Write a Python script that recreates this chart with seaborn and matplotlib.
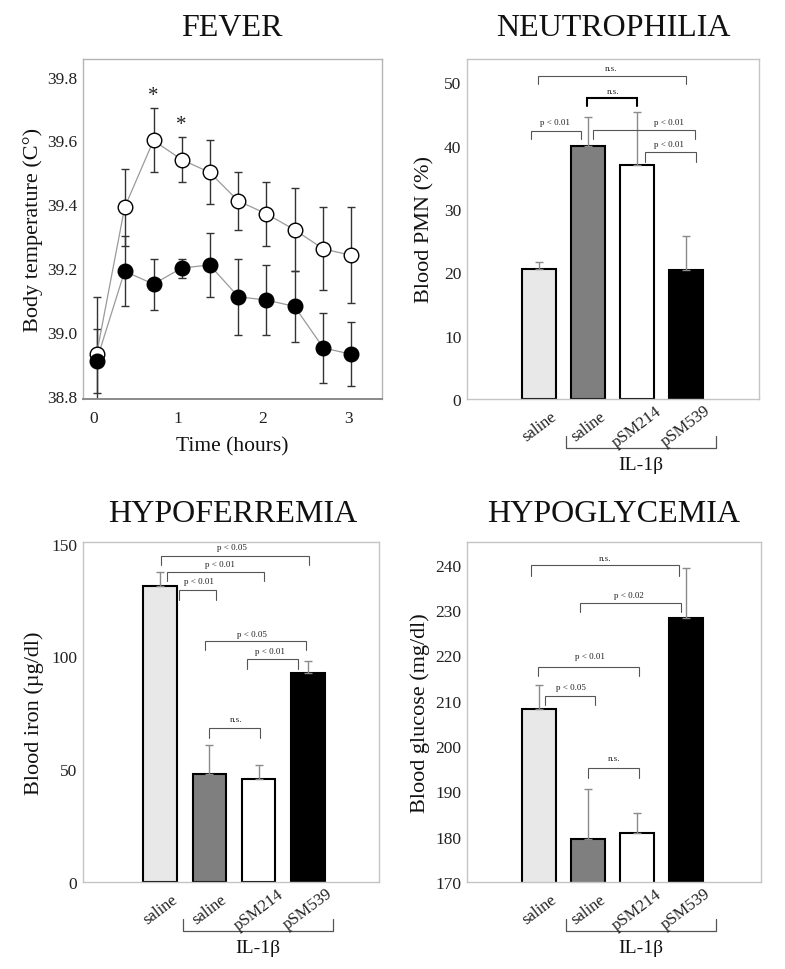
import numpy as np
import pandas as pd
import seaborn as sns
import matplotlib.pyplot as plt

sns.set_theme(style="white")
plt.rcParams["font.family"] = ["Liberation Serif", "DejaVu Serif"]
plt.rcParams["mathtext.fontset"] = "stix"

# fever time course (hours, deg C, SE)
hours = [0.04, 0.37, 0.71, 1.04, 1.37, 1.71, 2.04, 2.37, 2.71, 3.04]
temp_open = [38.93, 39.39, 39.60, 39.54, 39.50, 39.41, 39.37, 39.32, 39.26, 39.24]
se_open = [0.18, 0.12, 0.10, 0.07, 0.10, 0.09, 0.10, 0.13, 0.13, 0.15]
temp_filled = [38.91, 39.19, 39.15, 39.20, 39.21, 39.11, 39.10, 39.08, 38.95, 38.93]
se_filled = [0.10, 0.11, 0.08, 0.03, 0.10, 0.12, 0.11, 0.11, 0.11, 0.10]
star_idx = [2, 3]

# bar panels
groups = ["saline", "saline", "pSM214", "pSM539"]
bar_colors = ["#e8e8e8", "#7f7f7f", "#ffffff", "#000000"]
pmn = [20.5, 40.0, 36.9, 20.4]
pmn_se = [1.2, 4.6, 8.4, 5.3]
iron = [131.2, 48.0, 45.8, 92.7]
iron_se = [6.2, 12.6, 5.9, 5.3]
glucose = [208.2, 179.5, 180.8, 228.2]
glucose_se = [5.2, 11.0, 4.4, 11.0]

# significance brackets: (x1, x2, y, y_leg1, y_leg2, text, text_x, text_y)
pmn_brackets = [
    (-0.02, 2.99, 51.05, 49.7, 49.7, "n.s.", 1.47, 52.3),
    (0.97, 2.0, 47.5, 46.3, 46.3, "n.s.", 1.5, 48.7),
    (-0.16, 0.86, 42.4, 41.05, 41.05, "p < 0.01", 0.32, 43.7),
    (1.10, 3.18, 42.55, 41.05, 41.05, "p < 0.01", 2.65, 43.7),
    (2.17, 3.20, 39.0, 37.5, 37.5, "p < 0.01", 2.65, 40.3),
]
iron_brackets = [
    (0.02, 3.02, 144.5, 140.4, 140.4, "p < 0.05", 1.45, 148.3),
    (0.15, 2.11, 137.4, 133.3, 133.3, "p < 0.01", 1.22, 140.9),
    (0.39, 1.14, 129.3, 124.9, 124.9, "p < 0.01", 0.79, 133.2),
    (0.91, 2.97, 106.8, 102.7, 102.7, "p < 0.05", 1.87, 110.0),
    (1.77, 2.79, 98.7, 94.6, 94.6, "p < 0.01", 2.22, 102.5),
    (1.00, 2.03, 68.3, 63.8, 63.8, "n.s.", 1.54, 72.2),
]
glucose_brackets = [
    (-0.17, 2.86, 239.9, 237.6, 237.6, "n.s.", 1.34, 241.5),
    (0.84, 2.90, 231.6, 229.6, 229.6, "p < 0.02", 1.84, 233.4),
    (-0.02, 2.05, 217.4, 215.4, 215.4, "p < 0.01", 1.03, 219.8),
    (0.13, 1.15, 211.0, 209.1, 209.1, "p < 0.05", 0.65, 213.0),
    (1.00, 2.03, 195.1, 192.9, 192.9, "n.s.", 1.53, 197.3),
]

W, H = 785, 970
fig = plt.figure(figsize=(W / 100, H / 100), dpi=100)


def axes_px(left, top, right, bottom):
    return fig.add_axes([left / W, 1 - bottom / H, (right - left) / W, (bottom - top) / H])


def frame(ax, color="#c4c4c4"):
    for s in ax.spines.values():
        s.set_color(color)
        s.set_linewidth(1.0)
    ax.tick_params(axis="both", direction="in", length=3, color="#b0b0b0",
                   labelsize=12.5, labelcolor="#222222", pad=4)


def draw_bracket(ax, br, color="#555555", lw=0.8):
    x1, x2, y, l1, l2, txt, tx, ty = br
    ax.plot([x1, x1, x2, x2], [l1, y, y, l2], color=color, lw=lw, solid_joinstyle="miter")
    ax.text(tx, ty, txt, ha="center", va="center", fontsize=6.5, color="#222222")


def bar_panel(ax, values, errs, ylim, yticks, ylabel, brackets, xlim, pad,
              grp=(0.55, 3.62)):
    df = pd.DataFrame({"key": ["a", "b", "c", "d"], "value": values})
    sns.barplot(data=df, x="key", y="value", hue="key", palette=bar_colors,
                legend=False, edgecolor="black", linewidth=1.5, width=0.68,
                errorbar=None, ax=ax)
    ax.errorbar(np.arange(4), values, yerr=[np.zeros(4), errs], fmt="none",
                ecolor="#8a8a8a", elinewidth=1.0, capsize=3, capthick=1.0, zorder=1)
    ax.set_ylim(*ylim)
    ax.set_xlim(*xlim)
    ax.set_yticks(yticks)
    ax.set_xticks([])
    ax.set_xlabel("")
    ax.set_ylabel(ylabel, fontsize=16, color="#111111", labelpad=pad)
    frame(ax)
    for br in brackets:
        draw_bracket(ax, br)
    for i, g in enumerate(groups):
        ax.text(i, -0.079, g, transform=ax.get_xaxis_transform(),
                rotation=37, ha="center", va="center",
                fontsize=12, color="#222222")
    trans = ax.get_xaxis_transform()
    ax.plot([grp[0], grp[0], grp[1], grp[1]], [-0.108, -0.144, -0.144, -0.108],
            transform=trans, color="#555555", lw=0.9, clip_on=False)
    ax.text((grp[0] + grp[1]) / 2, -0.194, "IL-1β", transform=trans, ha="center",
            va="center", fontsize=14, color="#111111")


# FEVER
ax1 = axes_px(83, 60, 382, 400)
fever = pd.DataFrame({"t": hours * 2,
                      "temp": temp_open + temp_filled,
                      "grp": ["IL-1b + pSM214"] * 10 + ["IL-1b + pSM539"] * 10})
sns.lineplot(data=fever, x="t", y="temp", units="grp", estimator=None,
             color="#9a9a9a", lw=0.9, ax=ax1, zorder=2)
ax1.errorbar(hours, temp_open, yerr=se_open, fmt="none", ecolor="#333333",
             elinewidth=1.0, capsize=3, capthick=1.0, zorder=1)
ax1.errorbar(hours, temp_filled, yerr=se_filled, fmt="none", ecolor="#333333",
             elinewidth=1.0, capsize=3, capthick=1.0, zorder=1)
ax1.plot(hours, temp_open, "o", ms=10.5, mfc="white", mec="black", mew=1.0, zorder=3)
ax1.plot(hours, temp_filled, "o", ms=10.5, mfc="black", mec="black", zorder=3)
for i in star_idx:
    ax1.text(hours[i], temp_open[i] + se_open[i] + 0.04, "*", ha="center",
             va="center", fontsize=15, color="#222222")
ax1.set_xlim(-0.12, 3.4)
ax1.set_ylim(38.79, 39.855)
ax1.set_xticks([0, 1, 2, 3])
ax1.set_yticks([38.8, 39.0, 39.2, 39.4, 39.6, 39.8])
ax1.set_yticklabels(["38.8", "39.0", "39.2", "39.4", "39.6", "39.8"])
ax1.set_xlabel("Time (hours)", fontsize=15.5, color="#111111", labelpad=7)
ax1.set_ylabel("Body temperature (C°)", fontsize=16, color="#111111", labelpad=3)
frame(ax1, color="#b4b4b4")
ax1.spines["bottom"].set_color("#8a8a8a")
ax1.spines["bottom"].set_linewidth(1.4)
ax1.tick_params(axis="y", length=0)
ax1.tick_params(axis="x", pad=8)

# NEUTROPHILIA
ax2 = axes_px(467, 60, 759, 400)
bar_panel(ax2, pmn, pmn_se, (0, 53.7), [0, 10, 20, 30, 40, 50], "Blood PMN (%)",
          [], (-1.47, 4.49), 7)
for br in pmn_brackets:
    if br[5] == "n.s." and br[0] > 0.5:
        draw_bracket(ax2, br, color="black", lw=1.5)
    else:
        draw_bracket(ax2, br)

# HYPOFERREMIA
ax3 = axes_px(83, 543, 379, 883)
bar_panel(ax3, iron, iron_se, (0, 150.7), [0, 50, 100, 150], "Blood iron (µg/dl)",
          iron_brackets, (-1.56, 4.44), 5, grp=(0.47, 3.51))

# HYPOGLYCEMIA
ax4 = axes_px(467, 543, 761, 883)
bar_panel(ax4, glucose, glucose_se, (170, 245), list(range(170, 241, 10)),
          "Blood glucose (mg/dl)", glucose_brackets, (-1.47, 4.53), 4,
          grp=(0.55, 3.61))

for txt, x, y in [("FEVER", 232, 29), ("NEUTROPHILIA", 613, 29),
                  ("HYPOFERREMIA", 233, 515), ("HYPOGLYCEMIA", 614, 515)]:
    fig.text(x / W, 1 - y / H, txt, ha="center", va="center", fontsize=23,
             color="#111111")

fig.savefig("out.png", dpi=100)
